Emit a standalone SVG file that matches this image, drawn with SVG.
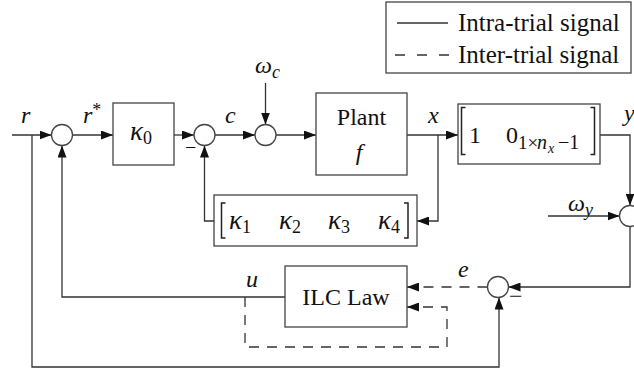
<svg xmlns="http://www.w3.org/2000/svg" width="634" height="372" viewBox="0 0 634 372">
<style>
.ln{fill:none;stroke:#333;stroke-width:1.3}
.ds{fill:none;stroke:#333;stroke-width:1.3;stroke-dasharray:10 8}
.bx{fill:#fff;stroke:#444;stroke-width:1.3}
.br{fill:none;stroke:#222;stroke-width:1.5}
.t{font-family:"Liberation Serif",serif;font-size:24px;fill:#111}
.m{font-family:"Liberation Serif",serif;font-size:24px;font-style:italic;fill:#111}
.k{font-family:"Liberation Serif",serif;font-size:27px;font-style:italic;fill:#111}
.s{font-size:18px;font-style:normal}
.si{font-size:18px;font-style:italic}
</style>
<defs>
<marker id="a" markerUnits="userSpaceOnUse" markerWidth="12" markerHeight="9" refX="12" refY="4.5" orient="auto">
<path d="M0,0 L12,4.5 L0,9 z" fill="#111"/>
</marker>
</defs>

<g id="legend">
<rect x="386" y="2" width="245" height="71" class="bx"/>
<line x1="397" y1="23" x2="448" y2="23" class="ln"/>
<line x1="395" y1="55" x2="449" y2="55" class="ln" stroke-dasharray="10 12"/>
<text x="458" y="31" class="t" style="font-size:25px">Intra-trial signal</text>
<text x="458" y="63" class="t" style="font-size:25px">Inter-trial signal</text>
</g>

<g id="connectors">
<line x1="12" y1="135" x2="51.5" y2="135" class="ln" marker-end="url(#a)"/>
<polyline points="32,135 32,367 499,367 499,297.5" class="ln" marker-end="url(#a)"/>
<line x1="72.5" y1="135" x2="113" y2="135" class="ln" marker-end="url(#a)"/>
<line x1="174" y1="135" x2="194" y2="135" class="ln" marker-end="url(#a)"/>
<line x1="215" y1="135" x2="255" y2="135" class="ln" marker-end="url(#a)"/>
<line x1="265.5" y1="83" x2="265.5" y2="124.5" class="ln" marker-end="url(#a)"/>
<line x1="276" y1="135" x2="316" y2="135" class="ln" marker-end="url(#a)"/>
<line x1="407" y1="135" x2="458" y2="135" class="ln" marker-end="url(#a)"/>
<polyline points="438,135 438,221 417,221" class="ln" marker-end="url(#a)"/>
<polyline points="214,221 204.5,221 204.5,145.5" class="ln" marker-end="url(#a)"/>
<polyline points="600,135 630,135 630,205.5" class="ln" marker-end="url(#a)"/>
<line x1="548" y1="216" x2="619.5" y2="216" class="ln" marker-end="url(#a)"/>
<polyline points="630,226.5 630,287 508.5,287" class="ln" marker-end="url(#a)"/>
<line x1="487.5" y1="287" x2="407" y2="287" class="ds" marker-end="url(#a)"/>
<polyline points="285,297 62,297 62,145.5" class="ln" marker-end="url(#a)"/>
<polyline points="245,297 245,347 447,347 447,307 407,307" class="ds" marker-end="url(#a)"/>
</g>

<g id="sum1"><circle cx="62" cy="135" r="10.5" class="bx"/></g>
<g id="sum2"><circle cx="204.5" cy="135" r="10.5" class="bx"/><text x="185" y="154" class="t" style="font-size:20px">−</text></g>
<g id="sum3"><circle cx="265.5" cy="135" r="10.5" class="bx"/></g>
<g id="sum4"><circle cx="630" cy="216" r="10.5" class="bx"/></g>
<g id="sum5"><circle cx="498" cy="287" r="10.5" class="bx"/><text x="509" y="304" class="t">−</text></g>

<g id="k0">
<rect x="113" y="103" width="61" height="62" class="bx"/>
<text x="130" y="140" class="k">κ<tspan class="s" dy="4">0</tspan></text>
</g>

<g id="plant">
<rect x="316" y="93" width="91" height="82" class="bx"/>
<text x="361.5" y="125" class="t" text-anchor="middle">Plant</text>
<text x="359" y="160" class="m" text-anchor="middle">f</text>
</g>

<g id="output">
<rect x="458" y="104" width="142" height="60" class="bx"/>
<path d="M465.5,107.5 H461.5 V154.5 H465.5" class="br"/>
<path d="M590.5,107.5 H594.5 V154.5 H590.5" class="br"/>
<text x="469" y="143" class="t">1</text>
<text x="506" y="143" class="t">0<tspan x="518" dy="6" style="font-size:19px">1×</tspan><tspan x="537" style="font-size:20px;font-style:italic">n</tspan><tspan x="548" dy="4" style="font-size:14px;font-style:italic">x</tspan><tspan x="558" dy="-4" style="font-size:20px">−1</tspan></text>
</g>

<g id="kvec">
<rect x="214" y="195" width="203" height="51" class="bx"/>
<path d="M225.5,203 H221.5 V238 H225.5" class="br"/>
<path d="M404,203 H408 V238 H404" class="br"/>
<text x="229" y="228.5" class="k">κ<tspan class="s" dy="4">1</tspan></text>
<text x="279" y="228.5" class="k">κ<tspan class="s" dy="4">2</tspan></text>
<text x="328" y="228.5" class="k">κ<tspan class="s" dy="4">3</tspan></text>
<text x="378" y="228.5" class="k">κ<tspan class="s" dy="4">4</tspan></text>
</g>

<g id="ilc">
<rect x="285" y="266" width="122" height="61" class="bx"/>
<text x="346" y="305" class="t" text-anchor="middle">ILC Law</text>
</g>

<g id="labels">
<text x="21" y="123" class="m">r</text>
<text x="83" y="123" class="m">r<tspan class="s" dy="-7">*</tspan></text>
<text x="225" y="123" class="m">c</text>
<text x="255" y="73" class="m">ω<tspan class="si" dy="5">c</tspan></text>
<text x="428" y="123" class="m">x</text>
<text x="624" y="121" class="m">y</text>
<text x="568" y="211" class="m">ω<tspan class="si" dy="5">y</tspan></text>
<text x="246" y="287" class="m">u</text>
<text x="458" y="277" class="m">e</text>
</g>
</svg>
